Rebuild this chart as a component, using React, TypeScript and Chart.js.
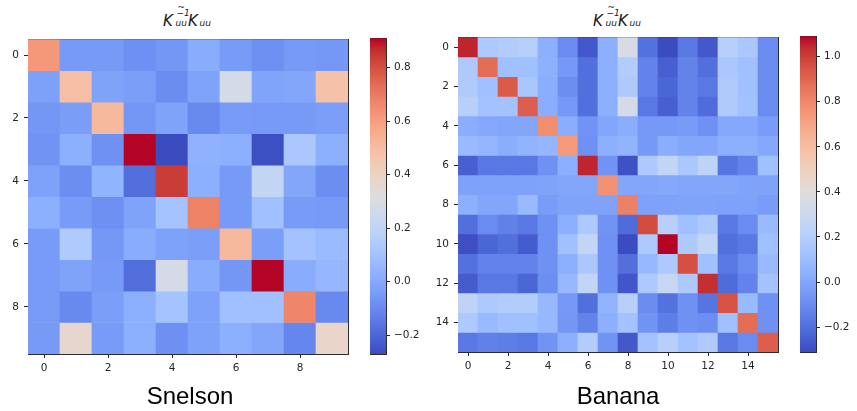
import React, { useEffect, useRef } from 'react';
import { Chart, registerables } from 'chart.js';
Chart.register(...registerables);

// ---------- data ----------
const snelsonValues: number[][] = [
  [0.62, -0.05, -0.05, -0.08, -0.06, 0.01, -0.045, -0.08, -0.05, -0.055],
  [-0.03, 0.49, -0.02, -0.035, -0.09, -0.02, 0.28, -0.015, -0.01, 0.48],
  [-0.06, -0.04, 0.51, -0.06, -0.02, -0.1, -0.045, -0.05, -0.05, -0.035],
  [-0.07, 0.025, -0.075, 0.91, -0.27, 0.035, 0.025, -0.26, 0.125, 0.02],
  [-0.025, -0.085, 0.04, -0.18, 0.84, 0.025, -0.05, 0.21, -0.01, -0.085],
  [0.025, -0.045, -0.08, -0.02, 0.105, 0.68, -0.05, 0.09, -0.045, -0.05],
  [-0.045, 0.14, -0.055, 0.01, -0.025, -0.035, 0.51, -0.035, 0.1, 0.07],
  [-0.045, -0.02, -0.05, -0.18, 0.28, 0.01, -0.06, 0.91, 0.01, 0.055],
  [-0.045, -0.1, -0.035, 0.02, 0.105, -0.025, 0.09, 0.09, 0.67, -0.1],
  [-0.05, 0.37, -0.045, 0.025, -0.08, -0.025, 0.02, -0.01, -0.11, 0.38],
];

const bananaValues: number[][] = [
  [1.05, 0.17, 0.19, 0.2, 0.04, -0.1, -0.27, 0.04, 0.35, -0.19, -0.31, -0.17, -0.27, 0.21, 0.16, -0.1],
  [0.17, 0.88, 0.12, 0.12, 0.045, -0.05, -0.2, 0.04, 0.19, -0.13, -0.25, -0.13, -0.2, 0.16, 0.12, -0.1],
  [0.18, 0.12, 0.93, 0.15, 0.03, -0.09, -0.2, 0.04, 0.17, -0.13, -0.23, -0.13, -0.17, 0.18, 0.12, -0.1],
  [0.21, 0.13, 0.13, 0.92, 0.03, -0.05, -0.2, 0.04, 0.34, -0.17, -0.25, -0.13, -0.21, 0.18, 0.125, -0.1],
  [0.03, 0.01, 0.0, 0.0, 0.78, 0.03, -0.07, 0.0, 0.03, -0.05, -0.05, -0.045, -0.08, 0.01, 0.01, -0.04],
  [0.09, 0.07, 0.03, 0.06, 0.07, 0.74, -0.08, 0.04, 0.06, -0.05, 0.03, 0.0, 0.0, 0.04, 0.04, 0.01],
  [-0.25, -0.17, -0.17, -0.17, -0.08, 0.04, 1.05, -0.07, -0.29, 0.17, 0.26, 0.16, 0.24, -0.18, -0.13, 0.12],
  [-0.02, -0.02, -0.02, -0.02, -0.01, 0.0, 0.0, 0.77, 0.0, 0.0, 0.01, 0.0, 0.0, 0.0, -0.01, -0.01],
  [0.04, 0.0, 0.0, 0.09, -0.04, -0.01, -0.01, -0.01, 0.82, -0.02, -0.02, -0.01, -0.01, -0.02, -0.02, -0.04],
  [-0.2, -0.1, -0.14, -0.17, -0.08, 0.04, 0.17, -0.07, -0.21, 0.97, 0.21, 0.12, 0.17, -0.17, -0.1, 0.09],
  [-0.3, -0.23, -0.2, -0.26, -0.08, 0.12, 0.26, -0.08, -0.31, 0.17, 1.09, 0.17, 0.26, -0.2, -0.17, 0.12],
  [-0.19, -0.13, -0.13, -0.13, -0.08, 0.04, 0.16, -0.08, -0.2, 0.08, 0.17, 0.96, 0.12, -0.17, -0.1, 0.09],
  [-0.26, -0.17, -0.17, -0.23, -0.09, 0.08, 0.26, -0.08, -0.28, 0.17, 0.28, 0.17, 1.03, -0.21, -0.13, 0.13],
  [0.24, 0.17, 0.19, 0.19, 0.08, -0.05, -0.2, 0.06, 0.21, -0.1, -0.19, -0.08, -0.18, 0.95, 0.09, -0.08],
  [0.17, 0.09, 0.12, 0.12, 0.08, -0.06, -0.13, 0.04, 0.13, -0.07, -0.15, -0.08, -0.09, 0.12, 0.88, -0.08],
  [-0.17, -0.14, -0.15, -0.17, -0.07, 0.04, 0.19, -0.07, -0.27, 0.13, 0.21, 0.13, 0.18, -0.17, -0.1, 0.92],
];

const snelsonAxisTicks = [0, 2, 4, 6, 8];
const bananaAxisTicks = [0, 2, 4, 6, 8, 10, 12, 14];
const snelsonColorbarTicks = [-0.2, 0.0, 0.2, 0.4, 0.6, 0.8];
const bananaColorbarTicks = [-0.2, 0.0, 0.2, 0.4, 0.6, 0.8, 1.0];
const datasetNames = ['Snelson', 'Banana'];

// ---------- colormap (coolwarm) ----------
const COOLWARM: number[][] = [
  [59, 76, 192], [68, 90, 204], [77, 104, 215], [87, 117, 225], [98, 130, 234],
  [108, 142, 241], [119, 154, 247], [130, 165, 251], [141, 176, 254], [152, 185, 255],
  [163, 194, 255], [174, 201, 253], [184, 208, 249], [194, 213, 244], [204, 217, 238],
  [213, 219, 230], [221, 221, 221], [229, 216, 209], [236, 211, 197], [241, 204, 185],
  [245, 196, 173], [247, 187, 160], [247, 177, 148], [247, 166, 135], [244, 154, 123],
  [241, 141, 111], [236, 127, 99], [229, 112, 88], [222, 96, 77], [213, 80, 66],
  [203, 62, 56], [192, 40, 47], [180, 4, 38],
];

function cmap(t: number): string {
  const tt = Math.max(0, Math.min(1, t)) * (COOLWARM.length - 1);
  const i = Math.min(COOLWARM.length - 2, Math.floor(tt));
  const f = tt - i;
  const a = COOLWARM[i], b = COOLWARM[i + 1];
  const c = a.map((v, k) => Math.round(v + (b[k] - v) * f));
  return `rgb(${c[0]},${c[1]},${c[2]})`;
}

const TICK_FONT = { family: '"DejaVu Sans", sans-serif', size: 10.5 };
const TICK_COLOR = '#262626';
const FRAME_COLOR = '#2b2b2b';

function frameAxis(position: 'top' | 'right' | 'left') {
  return {
    type: 'linear' as const,
    position,
    display: true,
    grid: { display: false, drawTicks: false },
    ticks: { display: false },
    border: { display: true, color: FRAME_COLOR, width: 1 },
    afterFit: (s: any) => {
      if (position === 'top') s.height = 0;
      else s.width = 0;
    },
  };
}

function fmtColorbar(v: number): string {
  const s = Math.abs(v).toFixed(1);
  return v < -1e-9 ? '\u2212' + s : s;
}

function heatmapConfig(values: number[][], axisTicks: number[]): any {
  const n = values.length;
  const flat = values.flat();
  const vmin = Math.min(...flat);
  const vmax = Math.max(...flat);
  const datasets = values.map((row, r) => ({
    data: row.map((v, c) => ({ x: c, y: [r - 0.5, r + 0.5] })),
    backgroundColor: row.map((v) => cmap((v - vmin) / (vmax - vmin))),
    borderWidth: 0,
    grouped: false,
    barPercentage: 1,
    categoryPercentage: 1,
  }));
  const setTicks = (s: any) => {
    s.ticks = axisTicks.map((v) => ({ value: v }));
  };
  return {
    type: 'bar',
    data: { datasets },
    options: {
      animation: false,
      responsive: false,
      maintainAspectRatio: false,
      events: [],
      layout: { padding: { top: 5, right: 5, left: 0, bottom: 0 } },
      plugins: { legend: { display: false }, tooltip: { enabled: false } },
      scales: {
        x: {
          type: 'linear',
          position: 'bottom',
          offset: false,
          min: -0.5,
          max: n - 0.5,
          afterBuildTicks: setTicks,
          afterFit: (s: any) => { s.height = 34; },
          grid: { offset: false, drawOnChartArea: false, drawTicks: true, tickLength: 4, tickColor: TICK_COLOR },
          border: { display: true, color: FRAME_COLOR, width: 1 },
          ticks: { font: TICK_FONT, color: TICK_COLOR, padding: 4, maxRotation: 0, autoSkip: false, callback: (v: any) => String(v) },
        },
        y: {
          type: 'linear',
          position: 'left',
          reverse: true,
          offset: false,
          min: -0.5,
          max: n - 0.5,
          afterBuildTicks: setTicks,
          afterFit: (s: any) => { s.width = 28; },
          grid: { offset: false, drawOnChartArea: false, drawTicks: true, tickLength: 4, tickColor: TICK_COLOR },
          border: { display: true, color: FRAME_COLOR, width: 1 },
          ticks: { font: TICK_FONT, color: TICK_COLOR, padding: 5, autoSkip: false, callback: (v: any) => String(v) },
        },
        xTop: frameAxis('top'),
        yRight: frameAxis('right'),
      },
    },
  };
}

function colorbarConfig(values: number[][], cbTicks: number[]): any {
  const flat = values.flat();
  const vmin = Math.min(...flat);
  const vmax = Math.max(...flat);
  const gradient = (ctx: any) => {
    const chart = ctx.chart;
    const sc = chart.scales && chart.scales.y;
    if (!sc || !chart.chartArea) return 'transparent';
    const g = chart.ctx.createLinearGradient(0, sc.getPixelForValue(vmin), 0, sc.getPixelForValue(vmax));
    COOLWARM.forEach((_, i) => g.addColorStop(i / (COOLWARM.length - 1), cmap(i / (COOLWARM.length - 1))));
    return g;
  };
  return {
    type: 'bar',
    data: {
      labels: [''],
      datasets: [{
        data: [[vmin, vmax]],
        backgroundColor: gradient,
        borderWidth: 0,
        barPercentage: 1,
        categoryPercentage: 1,
      }],
    },
    options: {
      animation: false,
      responsive: false,
      maintainAspectRatio: false,
      events: [],
      layout: { padding: { top: 5, right: 0, left: 5, bottom: 0 } },
      plugins: { legend: { display: false }, tooltip: { enabled: false } },
      scales: {
        x: {
          type: 'category',
          position: 'bottom',
          display: true,
          grid: { display: false, drawTicks: false },
          ticks: { display: false },
          border: { display: true, color: FRAME_COLOR, width: 1 },
          afterFit: (s: any) => { s.height = 34; },
        },
        y: {
          type: 'linear',
          position: 'right',
          min: vmin,
          max: vmax,
          afterBuildTicks: (s: any) => { s.ticks = cbTicks.map((v) => ({ value: v })); },
          afterFit: (s: any) => { s.width = 39; },
          grid: { drawOnChartArea: false, drawTicks: true, tickLength: 4, tickColor: TICK_COLOR },
          border: { display: true, color: FRAME_COLOR, width: 1 },
          ticks: { font: TICK_FONT, color: TICK_COLOR, padding: 4, autoSkip: false, callback: (v: any) => fmtColorbar(Number(v)) },
        },
        xTop: frameAxis('top'),
        yLeft: frameAxis('left'),
      },
    },
  };
}

function ChartCanvas({ config, left, top, width, height }: { config: any; left: number; top: number; width: number; height: number }) {
  const ref = useRef<HTMLCanvasElement | null>(null);
  useEffect(() => {
    if (!ref.current) return;
    const chart = new Chart(ref.current, config);
    return () => chart.destroy();
  }, [config]);
  return (
    <canvas
      ref={ref}
      width={width}
      height={height}
      style={{ position: 'absolute', left, top, width, height, display: 'block' }}
    />
  );
}

const mathFont = '"DejaVu Sans", sans-serif';

function MathTitle({ left }: { left: number }) {
  const base: React.CSSProperties = {
    position: 'absolute', fontFamily: mathFont, fontStyle: 'italic', color: '#1a1a1a', whiteSpace: 'nowrap',
  };
  const big: React.CSSProperties = { ...base, fontSize: 15, lineHeight: '15px' };
  const small: React.CSSProperties = { ...base, fontSize: 9, lineHeight: '9px' };
  return (
    <div style={{ position: 'absolute', left, top: 0, width: 52, height: 30 }}>
      <span style={{ ...big, left: 0, top: 13.5 }}>K</span>
      <span style={{ ...small, left: 14.5, top: 2.5, fontStyle: 'normal' }}>~</span>
      <span style={{ ...small, left: 13.5, top: 8.5 }}>{'\u22121'}</span>
      <span style={{ ...small, left: 12.5, top: 19 }}>uu</span>
      <span style={{ ...big, left: 25, top: 13.5 }}>K</span>
      <span style={{ ...small, left: 36.5, top: 19 }}>uu</span>
    </div>
  );
}

function BigLabel({ cx, text }: { cx: number; text: string }) {
  return (
    <div
      style={{
        position: 'absolute', left: cx - 100, width: 200, top: 384, textAlign: 'center',
        fontFamily: '"Liberation Sans", Arial, sans-serif', fontSize: 24, lineHeight: '24px', color: '#000',
      }}
    >
      {text}
    </div>
  );
}

const snelsonHeat = heatmapConfig(snelsonValues, snelsonAxisTicks);
const snelsonBar = colorbarConfig(snelsonValues, snelsonColorbarTicks);
const bananaHeat = heatmapConfig(bananaValues, bananaAxisTicks);
const bananaBar = colorbarConfig(bananaValues, bananaColorbarTicks);

export default function App() {
  return (
    <div style={{ position: 'fixed', left: 0, top: 0, width: 857, height: 411, background: '#fff', overflow: 'hidden' }}>
      <MathTitle left={163} />
      <ChartCanvas config={snelsonHeat} left={0} top={28} width={353} height={360} />
      <ChartCanvas config={snelsonBar} left={365} top={28} width={60} height={360} />
      <BigLabel cx={190} text={datasetNames[0]} />

      <MathTitle left={593} />
      <ChartCanvas config={bananaHeat} left={430} top={26} width={353} height={360} />
      <ChartCanvas config={bananaBar} left={795} top={26} width={60} height={360} />
      <BigLabel cx={618} text={datasetNames[1]} />
    </div>
  );
}
